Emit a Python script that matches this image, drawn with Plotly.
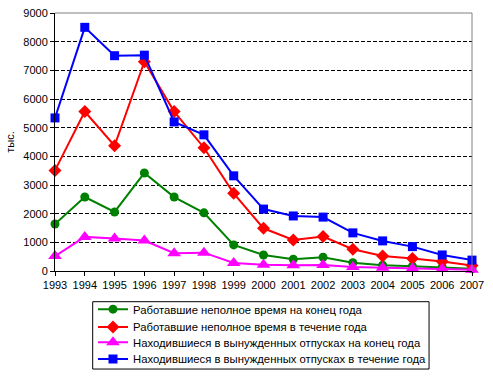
import plotly.graph_objects as go

years = list(range(1993, 2008))
part_time_end = [1640, 2580, 2060, 3420, 2580, 2030, 910, 560, 410, 480, 290, 200, 170, 130, 80]
part_time_during = [3510, 5560, 4370, 7300, 5560, 4300, 2710, 1490, 1080, 1200, 760, 520, 440, 330, 190]
leave_end = [520, 1190, 1130, 1060, 620, 640, 280, 220, 200, 210, 140, 110, 90, 70, 40]
leave_during = [5340, 8500, 7510, 7530, 5200, 4750, 3320, 2160, 1920, 1880, 1330, 1050, 850, 560, 380]

names = [
    "Работавшие неполное время на конец года",
    "Работавшие неполное время в течение года",
    "Находившиеся в вынужденных отпусках на конец года",
    "Находившиеся в вынужденных отпусках в течение года",
]
series = [part_time_end, part_time_during, leave_end, leave_during]
colors = ["#008000", "#FF0000", "#FF00FF", "#0000FF"]
symbols = ["circle", "diamond", "triangle-up", "square"]
sizes = [9, 10, 12, 9]
legend_ids = ["legend", "legend2", "legend3", "legend4"]
legend_rows_y = [-0.148, -0.217, -0.276, -0.341]  # paper fractions

fig = go.Figure()
for n, s, c, sym, sz, lg in zip(names, series, colors, symbols, sizes, legend_ids):
    fig.add_trace(go.Scatter(
        x=years, y=s, name=n, mode="lines+markers",
        line=dict(color=c, width=2),
        marker=dict(symbol=sym, size=sz, color=c),
        cliponaxis=False, legend=lg,
    ))

legend_style = dict(
    x=0.0911, xanchor="left", yanchor="middle",
    bgcolor="rgba(0,0,0,0)", borderwidth=0,
    font=dict(size=11.3, family="Liberation Sans, Arial, sans-serif", color="black"),
)
layout_legends = {lg: dict(legend_style, y=yy) for lg, yy in zip(legend_ids, legend_rows_y)}

fig.update_layout(
    width=493, height=380,
    margin=dict(l=55, r=21, t=13, b=109, autoexpand=False),
    paper_bgcolor="white", plot_bgcolor="white",
    font=dict(family="Liberation Sans, Arial, sans-serif", size=11, color="black"),
    showlegend=True,
    **layout_legends,
)
fig.update_xaxes(
    range=[1993, 2007], tickmode="array", tickvals=years,
    ticktext=[str(y) for y in years],
    showgrid=False, zeroline=False,
    showline=True, linecolor="black", linewidth=1,
    ticks="outside", ticklen=4, tickcolor="black",
)
fig.update_yaxes(
    range=[0, 9000], dtick=1000,
    showgrid=True, gridcolor="black", griddash="4px,2px", gridwidth=1,
    zeroline=False,
    showline=True, linecolor="black", linewidth=1,
    ticks="outside", ticklen=4, tickcolor="black",
    title=dict(text="тыс.", standoff=6, font=dict(size=11)),
)
# gray top and right borders of the plot area
fig.add_shape(type="line", xref="paper", yref="paper", x0=0, x1=1, y0=1, y1=1,
              line=dict(color="gray", width=1))
fig.add_shape(type="line", xref="paper", yref="paper", x0=1, x1=1, y0=0, y1=1,
              line=dict(color="gray", width=1))
# legend frame
fig.add_shape(type="rect", xref="paper", yref="paper", x0=0.0904, x1=0.897, y0=-0.380, y1=-0.119,
              line=dict(color="black", width=1), fillcolor="rgba(0,0,0,0)")

fig.write_html("out.html", config={"displayModeBar": False},
               post_script="document.body.style.margin='0';")
